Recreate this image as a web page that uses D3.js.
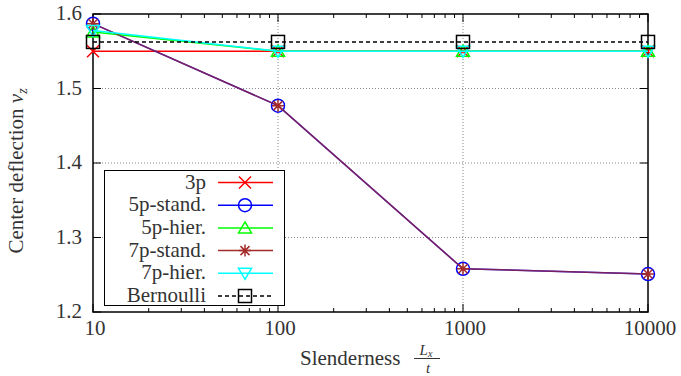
<!DOCTYPE html>
<html>
<head>
<meta charset="utf-8">
<script src="https://cdn.jsdelivr.net/npm/d3@7"></script>
<style>
  body { margin: 0; background: #fff; }
  text { font-family: "Liberation Serif", "DejaVu Serif", serif; fill: #333; }
</style>
</head>
<body>
<svg></svg>
<script>
const width = 681;
const height = 376;

// data
const slenderness = [10, 100, 1000, 10000];
const v3p = [1.550, 1.550, 1.550, 1.550];
const v5pStand = [1.587, 1.477, 1.258, 1.251];
const v5pHier = [1.576, 1.550, 1.550, 1.550];
const v7pStand = [1.587, 1.477, 1.258, 1.251];
const v7pHier = [1.578, 1.550, 1.550, 1.550];
const vBernoulli = [1.5625, 1.5625, 1.5625, 1.5625];
const yTicks = [1.2, 1.3, 1.4, 1.5, 1.6];
const xTicks = [10, 100, 1000, 10000];

let svg = d3.select("svg")
    .attr("width", width)
    .attr("height", height);

const mLeft = 93, mRight = 648, mTop = 14, mBottom = 312;
const fs = "21px";

let x = d3.scaleLog().domain([10, 10000]).range([mLeft, mRight]);
let y = d3.scaleLinear().domain([1.2, 1.6]).range([mBottom, mTop]);

// grid
let grid = svg.append("g")
    .style("stroke", "#888")
    .style("stroke-width", 1)
    .style("stroke-dasharray", "1,2");
xTicks.slice(1, -1).forEach(t => {
    grid.append("line")
        .attr("x1", x(t)).attr("x2", x(t))
        .attr("y1", mTop).attr("y2", mBottom);
});
yTicks.slice(1, -1).forEach(t => {
    grid.append("line")
        .attr("x1", mLeft).attr("x2", mRight)
        .attr("y1", y(t)).attr("y2", y(t));
});

// ticks
let ticks = svg.append("g").style("stroke", "#000").style("stroke-width", 1);
for (let d = 10; d < 10000; d *= 10) {
    for (let k = 2; k < 10; k++) {
        let xx = x(d * k);
        ticks.append("line").attr("x1", xx).attr("x2", xx).attr("y1", mBottom).attr("y2", mBottom - 4);
        ticks.append("line").attr("x1", xx).attr("x2", xx).attr("y1", mTop).attr("y2", mTop + 4);
    }
}
xTicks.forEach(t => {
    ticks.append("line").attr("x1", x(t)).attr("x2", x(t)).attr("y1", mBottom).attr("y2", mBottom - 8);
    ticks.append("line").attr("x1", x(t)).attr("x2", x(t)).attr("y1", mTop).attr("y2", mTop + 8);
    svg.append("text")
        .attr("x", x(t) + 2).attr("y", 335)
        .attr("text-anchor", "middle")
        .style("font-size", fs)
        .text(t);
});
yTicks.forEach(t => {
    ticks.append("line").attr("x1", mLeft).attr("x2", mLeft + 8).attr("y1", y(t)).attr("y2", y(t));
    ticks.append("line").attr("x1", mRight).attr("x2", mRight - 8).attr("y1", y(t)).attr("y2", y(t));
    svg.append("text")
        .attr("x", 82).attr("y", y(t) + 6)
        .attr("text-anchor", "end")
        .style("font-size", fs)
        .text(t.toFixed(1));
});

// frame
svg.append("rect")
    .attr("x", mLeft).attr("y", mTop)
    .attr("width", mRight - mLeft).attr("height", mBottom - mTop)
    .style("fill", "none").style("stroke", "#000").style("stroke-width", 1.5);

// markers
function marker(g, type, cx, cy, color) {
    let m = g.append("g").attr("transform", `translate(${cx},${cy})`)
        .style("stroke", color).style("fill", "none").style("stroke-width", 1.5);
    if (type == "x") {
        m.append("path").attr("d", "M-6,-6L6,6M-6,6L6,-6");
    } else if (type == "circle") {
        m.append("circle").attr("r", 6.5);
    } else if (type == "tri") {
        m.append("path").attr("d", "M0,-6L6.5,5L-6.5,5Z");
    } else if (type == "star") {
        m.append("path").attr("d", "M-6,0L6,0M0,-6L0,6M-4.5,-4.5L4.5,4.5M-4.5,4.5L4.5,-4.5");
    } else if (type == "itri") {
        m.append("path").attr("d", "M0,6L6.5,-5L-6.5,-5Z");
    } else if (type == "square") {
        m.append("rect").attr("x", -6.5).attr("y", -6.5).attr("width", 13).attr("height", 13);
    }
}

const series = [
    {name: "3p", values: v3p, color: "#ff0000", type: "x", dash: null},
    {name: "5p-stand.", values: v5pStand, color: "#0000ff", type: "circle", dash: null},
    {name: "5p-hier.", values: v5pHier, color: "#00ff00", type: "tri", dash: null},
    {name: "7p-stand.", values: v7pStand, color: "#a52a2a", type: "star", dash: null},
    {name: "7p-hier.", values: v7pHier, color: "#00ffff", type: "itri", dash: null},
    {name: "Bernoulli", values: vBernoulli, color: "#000000", type: "square", dash: "4,3"}
];

const line = d3.line()
    .x((d, i) => x(slenderness[i]))
    .y(d => y(d));

let plot = svg.append("g");
series.forEach(s => {
    plot.append("path")
        .attr("d", line(s.values))
        .style("fill", "none")
        .style("stroke", s.color)
        .style("stroke-width", 1.5)
        .style("opacity", s.name == "7p-stand." ? 0.75 : 1)
        .style("stroke-dasharray", s.dash);
    s.values.forEach((v, i) => marker(plot, s.type, x(slenderness[i]), y(v), s.color));
});

// legend
let legend = svg.append("g");
legend.append("rect")
    .attr("x", 104.5).attr("y", 170.5)
    .attr("width", 180).attr("height", 135)
    .style("fill", "#fff").style("stroke", "#000").style("stroke-width", 1);
series.forEach((s, i) => {
    let ly = 182.5 + i * 22.7;
    legend.append("text")
        .attr("x", 206).attr("y", ly + 6)
        .attr("text-anchor", "end")
        .style("font-size", fs)
        .text(s.name);
    legend.append("line")
        .attr("x1", 218).attr("x2", 273)
        .attr("y1", ly).attr("y2", ly)
        .style("stroke", s.color).style("stroke-width", 1.5)
        .style("stroke-dasharray", s.dash);
    marker(legend, s.type, 245, ly, s.color);
});

// axis labels
let ylab = svg.append("text")
    .attr("transform", "translate(23,171) rotate(-90)")
    .attr("text-anchor", "middle")
    .style("font-size", fs);
ylab.append("tspan").text("Center deflection ");
ylab.append("tspan").style("font-style", "italic").text("v");
ylab.append("tspan").style("font-style", "italic").style("font-size", "14px").attr("dy", 4).text("z");

let xlab = svg.append("g");
xlab.append("text")
    .attr("x", 300).attr("y", 365)
    .style("font-size", fs)
    .text("Slenderness");
xlab.append("text")
    .attr("x", 426).attr("y", 355)
    .attr("text-anchor", "middle")
    .style("font-size", "15px").style("font-style", "italic")
    .text("L")
    .append("tspan").style("font-size", "10px").attr("dy", 2).text("x");
xlab.append("line")
    .attr("x1", 414).attr("x2", 440)
    .attr("y1", 358.5).attr("y2", 358.5)
    .style("stroke", "#333").style("stroke-width", 1);
xlab.append("text")
    .attr("x", 428).attr("y", 373)
    .attr("text-anchor", "middle")
    .style("font-size", "15px").style("font-style", "italic")
    .text("t");
</script>
</body>
</html>
